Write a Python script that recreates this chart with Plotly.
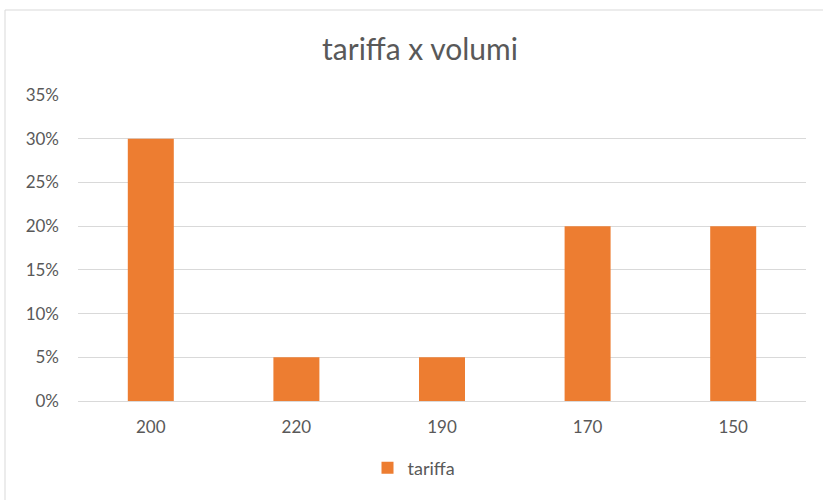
import plotly.graph_objects as go

categories = ["200", "220", "190", "170", "150"]
values = [0.30, 0.05, 0.05, 0.20, 0.20]
series_name = "tariffa"
title_text = "tariffa x volumi"

W, H = 823, 500
L, R, T, B = 78, 17, 95, 99
pw = W - L - R
ph = H - T - B

fig = go.Figure()
fig.add_trace(go.Bar(
    x=categories, y=values, name=series_name,
    marker=dict(color="#ED7D31", line=dict(width=0)),
    showlegend=True,
))

def px_x(px):
    return (px - L) / pw

def px_y(py):
    return (H - B - py) / ph

fig.update_layout(
    width=W, height=H,
    margin=dict(l=L, r=R, t=T, b=B),
    paper_bgcolor="white", plot_bgcolor="white",
    font=dict(family="Lato, Open Sans, sans-serif", color="#595959", size=17),
    title=dict(text=title_text, x=420 / W, xref="container", xanchor="center",
               y=1 - 49 / H, yref="container", yanchor="middle",
               font=dict(size=30, color="#595959", family="Lato, sans-serif")),
    bargap=0.684,
    xaxis=dict(type="category", showgrid=False, zeroline=False, showline=False,
               ticks="", tickfont=dict(size=17, color="#595959"), ticklabelstandoff=14),
    yaxis=dict(range=[0, 0.35], dtick=0.05, tick0=0, tickformat=".0%",
               showgrid=True, gridcolor="#d9d9d9", gridwidth=1,
               zeroline=True, zerolinecolor="#d9d9d9", zerolinewidth=1,
               showline=False, ticks="", ticklabelstandoff=18,
               tickfont=dict(size=17, color="#595959")),
    legend=dict(orientation="h", x=px_x(414), xanchor="center",
                y=px_y(468), yanchor="middle", font=dict(size=18, color="#595959"),
                itemwidth=30, bgcolor="rgba(0,0,0,0)"),
    shapes=[dict(type="rect", xref="paper", yref="paper",
                 x0=px_x(5), x1=px_x(840), y0=px_y(10), y1=px_y(520),
                 line=dict(color="#d9d9d9", width=1), fillcolor="rgba(0,0,0,0)",
                 layer="below")],
)

fig.write_html("out.html")
